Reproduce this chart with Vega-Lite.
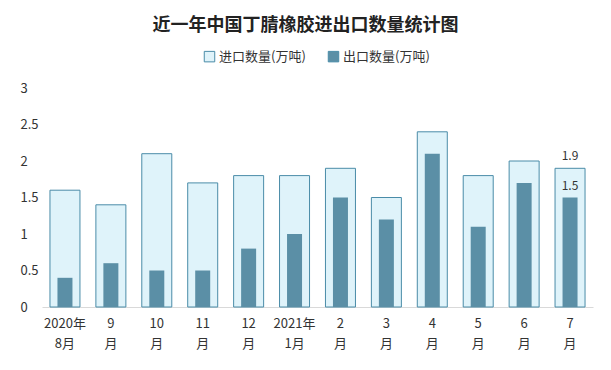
{
  "$schema": "https://vega.github.io/schema/vega-lite/v6.json",
  "autosize": {"type": "none"},
  "width": 551,
  "height": 219,
  "padding": {"left": 42, "top": 88, "right": 18, "bottom": 63},
  "background": "white",
  "title": {
    "text": "近一年中国丁腈橡胶进出口数量统计图",
    "font": "Noto Sans CJK SC",
    "fontSize": 18,
    "fontWeight": "bold",
    "color": "#222222",
    "anchor": "middle",
    "dx": -12,
    "offset": 15
  },
  "data": {
    "values": [
      {"month": "2020年|8月", "imp": 1.6, "exp": 0.4},
      {"month": "9|月", "imp": 1.4, "exp": 0.6},
      {"month": "10|月", "imp": 2.1, "exp": 0.5},
      {"month": "11|月", "imp": 1.7, "exp": 0.5},
      {"month": "12|月", "imp": 1.8, "exp": 0.8},
      {"month": "2021年|1月", "imp": 1.8, "exp": 1.0},
      {"month": "2|月", "imp": 1.9, "exp": 1.5},
      {"month": "3|月", "imp": 1.5, "exp": 1.2},
      {"month": "4|月", "imp": 2.4, "exp": 2.1},
      {"month": "5|月", "imp": 1.8, "exp": 1.1},
      {"month": "6|月", "imp": 2.0, "exp": 1.7},
      {"month": "7|月", "imp": 1.9, "exp": 1.5, "last": true}
    ]
  },
  "encoding": {
    "x": {
      "field": "month",
      "type": "nominal",
      "sort": null,
      "title": null,
      "scale": {"paddingInner": 0, "paddingOuter": 0},
      "axis": {
        "labelAngle": 0,
        "labelExpr": "split(datum.label, '|')",
        "labelFont": "Noto Sans CJK SC",
        "labelFontSize": 13,
        "labelColor": "#333333",
        "labelPadding": 10,
        "labelLineHeight": 20,
        "ticks": false,
        "domainColor": "#D9D9D9",
        "domainWidth": 1
      }
    }
  },
  "layer": [
    {
      "mark": {"type": "bar", "size": 30, "stroke": "#4A8CA8", "strokeWidth": 1},
      "encoding": {
        "y": {
          "field": "imp",
          "type": "quantitative",
          "title": null,
          "scale": {"domain": [0, 3]},
          "axis": {"values": [0, 0.5, 1, 1.5, 2, 2.5, 3], "format": "~g", "labelOverlap": false, "grid": false, "domain": false, "ticks": false, "tickSize": 0, "labelAlign": "left", "labelPadding": 22, "labelFont": "Noto Sans CJK SC", "labelFontSize": 13, "labelColor": "#333333"}
        },
        "color": {
          "datum": "进口数量(万吨)",
          "type": "nominal",
          "scale": {"domain": ["进口数量(万吨)", "出口数量(万吨)"], "range": ["#DFF3FA", "#5B8FA6"]},
          "legend": {
            "orient": "none",
            "legendX": 161,
            "legendY": -38,
            "direction": "horizontal",
            "title": null,
            "symbolType": "square",
            "symbolSize": 110,
            "symbolStrokeColor": "#4A8CA8",
            "symbolStrokeWidth": 1,
            "labelFont": "Noto Sans CJK SC",
            "labelFontSize": 13,
            "labelColor": "#333333",
            "columnPadding": 20,
            "labelOffset": 3
          }
        }
      }
    },
    {
      "mark": {"type": "bar", "size": 15},
      "encoding": {
        "y": {"field": "exp", "type": "quantitative", "title": null,
          "axis": {"values": [0, 0.5, 1, 1.5, 2, 2.5, 3], "format": "~g", "labelOverlap": false, "grid": false, "domain": false, "ticks": false, "tickSize": 0, "labelAlign": "left", "labelPadding": 22, "labelFont": "Noto Sans CJK SC", "labelFontSize": 13, "labelColor": "#333333"}},
        "color": {"datum": "出口数量(万吨)", "type": "nominal"}
      }
    },
    {
      "transform": [{"filter": "datum.last"}],
      "mark": {"type": "text", "dy": -12, "font": "Noto Sans CJK SC", "fontSize": 12, "color": "#333333"},
      "encoding": {"y": {"field": "imp", "type": "quantitative", "title": null,
          "axis": {"values": [0, 0.5, 1, 1.5, 2, 2.5, 3], "format": "~g", "labelOverlap": false, "grid": false, "domain": false, "ticks": false, "tickSize": 0, "labelAlign": "left", "labelPadding": 22, "labelFont": "Noto Sans CJK SC", "labelFontSize": 13, "labelColor": "#333333"}},
        "text": {"field": "imp", "type": "quantitative", "format": ".1f"}}
    },
    {
      "transform": [{"filter": "datum.last"}],
      "mark": {"type": "text", "dy": -12, "font": "Noto Sans CJK SC", "fontSize": 12, "color": "#333333"},
      "encoding": {"y": {"field": "exp", "type": "quantitative", "title": null,
          "axis": {"values": [0, 0.5, 1, 1.5, 2, 2.5, 3], "format": "~g", "labelOverlap": false, "grid": false, "domain": false, "ticks": false, "tickSize": 0, "labelAlign": "left", "labelPadding": 22, "labelFont": "Noto Sans CJK SC", "labelFontSize": 13, "labelColor": "#333333"}},
        "text": {"field": "exp", "type": "quantitative", "format": ".1f"}}
    }
  ],
  "config": {"view": {"stroke": null}}
}
